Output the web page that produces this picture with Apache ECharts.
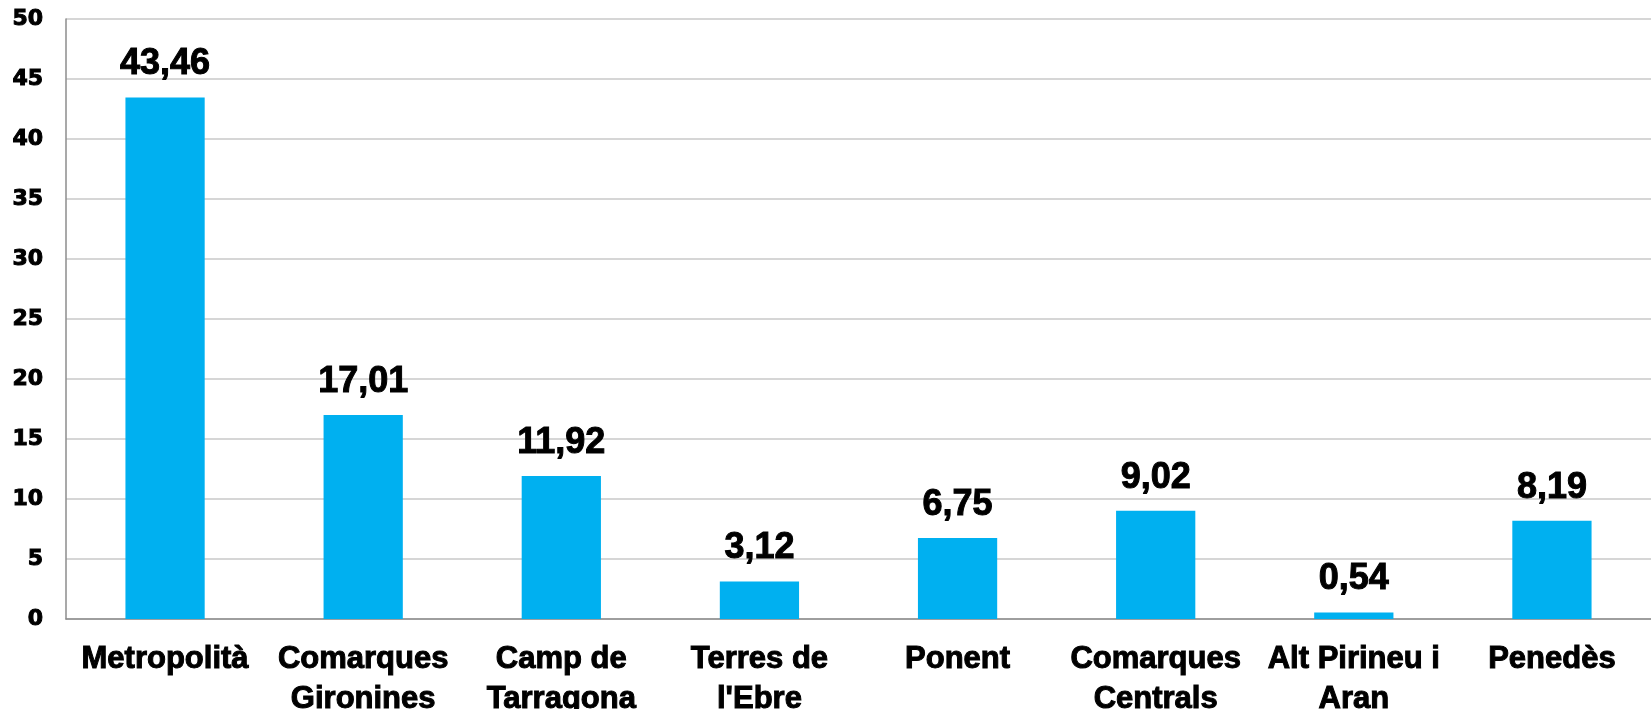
<!DOCTYPE html>
<html>
<head>
<meta charset="utf-8">
<script src="https://cdn.jsdelivr.net/npm/echarts@6/dist/echarts.min.js"></script>
<style>
html, body { margin: 0; padding: 0; background: #fff; }
#main { width: 1651px; height: 709px; }
</style>
</head>
<body>
<div id="main"></div>
<script>
// dades del gràfic
var categories = ['Metropolità', 'Comarques\nGironines', 'Camp de\nTarragona', "Terres de\nl'Ebre",
	'Ponent', 'Comarques\nCentrals', 'Alt Pirineu i\nAran', 'Penedès'];
var values = [43.46, 17.01, 11.92, 3.12, 6.75, 9.02, 0.54, 8.19];
var yMin = 0, yMax = 50, yStep = 5;

var font = 'Liberation Sans';

var myChart = echarts.init(document.getElementById('main'));

var option = {
	animation: false,
	backgroundColor: '#ffffff',
	grid: { left: 66, right: 0, top: 19, bottom: 90, containLabel: false, outerBoundsMode: 'none' },
	xAxis: {
		type: 'category',
		data: categories,
		axisLine: { show: true, lineStyle: { color: '#8c8c8c', width: 1.5 } },
		axisTick: { show: false },
		axisLabel: {
			color: '#000', fontFamily: font, fontWeight: 'bold', fontSize: 31,
			textBorderColor: '#000', textBorderWidth: 1,
			lineHeight: 40, margin: 20, interval: 0
		}
	},
	yAxis: {
		type: 'value',
		min: yMin, max: yMax, interval: yStep,
		axisLine: { show: true, lineStyle: { color: '#8c8c8c', width: 1.5 } },
		axisTick: { show: false },
		splitLine: { lineStyle: { color: '#c8c8c8', width: 1.5 } },
		axisLabel: {
			color: '#000', fontFamily: 'DejaVu Sans', fontWeight: 'bold', fontSize: 22,
			textBorderColor: '#000', textBorderWidth: 1, margin: 23
		}
	},
	series: [{
		type: 'bar',
		data: values,
		barWidth: '40%',
		itemStyle: { color: '#00b0f0' },
		label: {
			show: true, position: 'top', distance: 15,
			color: '#000', fontFamily: font, fontWeight: 'bold', fontSize: 36,
			textBorderColor: '#000', textBorderWidth: 1,
			formatter: function(p) { return p.value.toFixed(2).replace('.', ','); }
		}
	}]
};

myChart.setOption(option);
</script>
</body>
</html>
